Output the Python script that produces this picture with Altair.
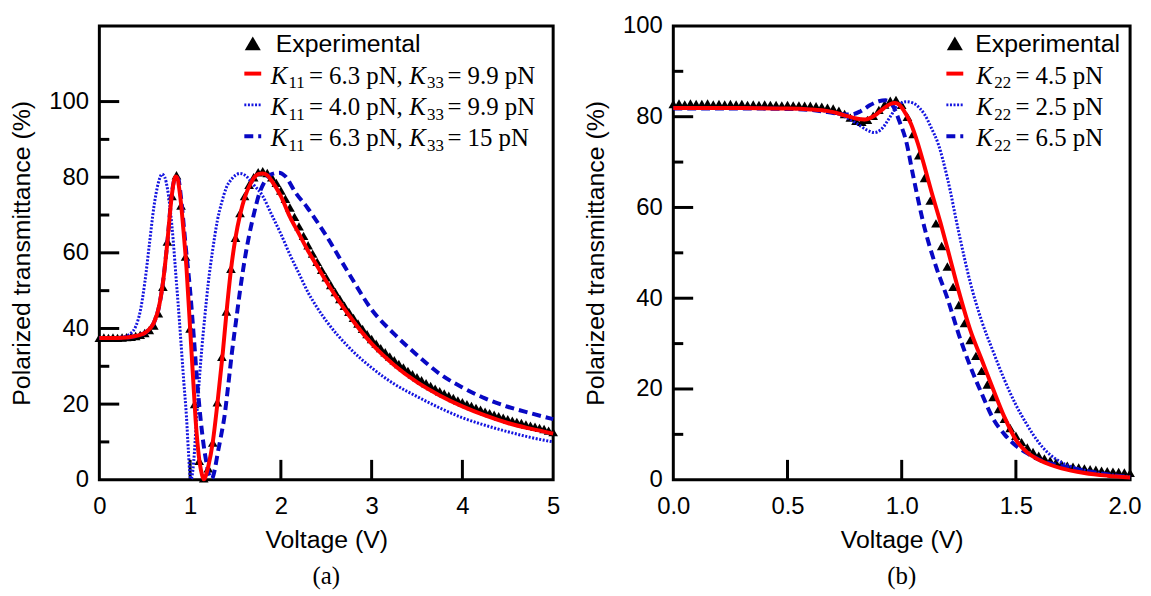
import altair as alt
import pandas as pd

SANS = "Liberation Sans"
SERIF = "Liberation Serif"
RED = "#ff0000"
BLUE_DOT = "#1414e0"
BLUE_DASH = "#0808c4"

# ---------------- Panel (a) data ----------------
a_exp_v = [0.00, 0.05, 0.10, 0.15, 0.20, 0.25, 0.30, 0.35, 0.40, 0.45,
           0.50, 0.55, 0.60, 0.65, 0.70, 0.75, 0.80, 0.85, 0.90, 0.95,
           1.00, 1.05, 1.10, 1.15, 1.20, 1.25, 1.30, 1.35, 1.40, 1.45,
           1.50, 1.55, 1.60, 1.65, 1.70, 1.75, 1.80, 1.85, 1.90, 1.95,
           2.00, 2.05, 2.10, 2.15, 2.20, 2.25, 2.30, 2.35, 2.40, 2.45,
           2.50, 2.55, 2.60, 2.65, 2.70, 2.75, 2.80, 2.85, 2.90, 2.95,
           3.00, 3.05, 3.10, 3.15, 3.20, 3.25, 3.30, 3.35, 3.40, 3.45,
           3.50, 3.55, 3.60, 3.65, 3.70, 3.75, 3.80, 3.85, 3.90, 3.95,
           4.00, 4.05, 4.10, 4.15, 4.20, 4.25, 4.30, 4.35, 4.40, 4.45,
           4.50, 4.55, 4.60, 4.65, 4.70, 4.75, 4.80, 4.85, 4.90, 4.95, 5.00]
a_exp_t = [37.5, 37.6, 37.5, 37.6, 37.5, 37.6, 37.7, 37.8, 38.0, 38.3,
           38.8, 39.6, 40.8, 44.0, 51.0, 63.0, 75.0, 80.5, 72.5, 59.0,
           40.0, 20.0, 5.0, 0.4, 3.0, 9.8, 20.5, 32.5, 44.5, 55.8,
           64.0, 70.5, 75.0, 78.0, 80.0, 81.3, 81.6, 81.1, 80.0, 78.5,
           76.5, 74.3, 72.0, 69.5, 67.0, 64.5, 62.0, 59.8, 57.6, 55.5,
           53.5, 51.5, 49.6, 47.8, 46.0, 44.4, 42.8, 41.3, 39.9, 38.5,
           37.2, 36.0, 34.8, 33.7, 32.6, 31.6, 30.6, 29.7, 28.8, 27.9,
           27.1, 26.3, 25.5, 24.8, 24.1, 23.4, 22.8, 22.2, 21.6, 21.0,
           20.5, 20.0, 19.5, 19.0, 18.5, 18.0, 17.6, 17.2, 16.8, 16.4,
           16.0, 15.6, 15.3, 15.0, 14.6, 14.3, 14.0, 13.7, 13.4, 13.0, 12.6]

a_red_v = [0, 0.1, 0.2, 0.3, 0.4, 0.45, 0.5, 0.55, 0.6, 0.65, 0.7, 0.75, 0.78, 0.8,
           0.82, 0.84, 0.86, 0.88, 0.9, 0.93, 0.96, 1.0, 1.03, 1.06, 1.08, 1.1,
           1.12, 1.14, 1.15, 1.16, 1.18, 1.2, 1.25, 1.3, 1.36, 1.4, 1.45, 1.5,
           1.55, 1.6, 1.67, 1.75, 1.8, 1.85, 1.9, 2.0, 2.1, 2.2, 2.3, 2.4, 2.5,
           2.75, 3.0, 3.25, 3.5, 3.75, 4.0, 4.25, 4.5, 4.75, 5.0]
a_red_t = [37.5, 37.5, 37.5, 37.6, 38.0, 38.3, 38.8, 39.8, 41.5, 45.0, 52.0, 63.0, 71.0, 75.5,
           78.8, 80.2, 79.8, 77.0, 73.0, 65.0, 56.0, 40.0, 28.0, 16.0, 10.0, 5.5,
           2.5, 0.6, 0.1, 0.3, 1.6, 3.5, 10.0, 20.0, 33.6, 44.0, 55.5, 64.0,
           70.0, 74.5, 78.5, 80.8, 81.0, 80.5, 79.0, 75.0, 69.5, 65.0, 60.5, 56.5, 52.5,
           43.5, 36.0, 30.3, 25.8, 22.3, 19.4, 17.0, 15.0, 13.5, 12.2]

a_dot_v = [0, 0.2, 0.3, 0.35, 0.4, 0.45, 0.5, 0.55, 0.6, 0.65, 0.69, 0.72, 0.75, 0.8,
           0.85, 0.88, 0.9, 0.93, 0.96, 0.98, 1.0, 1.01, 1.02, 1.04, 1.07, 1.1, 1.13,
           1.16, 1.2, 1.25, 1.3, 1.35, 1.4, 1.45, 1.5, 1.55, 1.6, 1.7, 1.8, 1.9, 2.0,
           2.1, 2.2, 2.3, 2.4, 2.5, 2.75, 3.0, 3.25, 3.5, 3.75, 4.0, 4.25, 4.5, 4.75, 5.0]
a_dot_t = [37.5, 37.6, 38.0, 38.8, 40.5, 44.5, 52.0, 62.0, 72.0, 78.5, 80.8, 80.0, 77.0, 67.0,
           52.0, 42.7, 36.0, 26.0, 16.6, 8.0, 1.0, 0.2, 0.8, 5.0, 16.0, 26.0, 35.0,
           42.7, 52.0, 61.0, 68.5, 73.5, 77.3, 79.3, 80.5, 81.0, 80.6, 78.0, 75.0, 70.0, 65.0,
           59.5, 54.5, 49.5, 45.5, 42.0, 35.0, 29.6, 25.3, 22.0, 19.0, 16.4, 14.4, 12.7, 11.2, 10.0]

a_dash_v = [0, 0.2, 0.3, 0.4, 0.45, 0.5, 0.55, 0.6, 0.65, 0.7, 0.75, 0.8, 0.84, 0.87, 0.9,
            0.95, 1.0, 1.04, 1.08, 1.12, 1.15, 1.18, 1.2, 1.22, 1.24, 1.27, 1.3, 1.34,
            1.38, 1.42, 1.46, 1.51, 1.55, 1.6, 1.65, 1.7, 1.76, 1.82, 1.9, 1.98, 2.05,
            2.16, 2.29, 2.5, 2.75, 3.0, 3.25, 3.5, 3.75, 4.0, 4.25, 4.5, 4.75, 5.0]
a_dash_t = [37.5, 37.5, 37.6, 38.0, 38.3, 38.8, 39.8, 41.5, 45.0, 52.0, 63.0, 76.0, 80.0, 79.5, 74.5,
            62.0, 50.0, 38.0, 25.3, 15.0, 9.0, 4.5, 2.0, 0.5, 0.3, 2.5, 6.5, 11.5,
            17.0, 25.0, 33.5, 42.7, 50.0, 58.0, 64.6, 70.0, 75.5, 78.8, 80.8, 81.2, 80.2,
            76.0, 72.0, 64.5, 54.5, 45.0, 38.5, 33.0, 28.0, 24.4, 21.5, 19.3, 17.6, 16.0]

# ---------------- Panel (b) data ----------------
b_exp_v = [0.000, 0.025, 0.050, 0.075, 0.100, 0.125, 0.150, 0.175, 0.200, 0.225,
           0.250, 0.275, 0.300, 0.325, 0.350, 0.375, 0.400, 0.425, 0.450, 0.475,
           0.500, 0.525, 0.550, 0.575, 0.600, 0.625, 0.650, 0.675, 0.700, 0.725,
           0.750, 0.775, 0.800, 0.825, 0.850, 0.875, 0.900, 0.925, 0.950, 0.975,
           1.000, 1.025, 1.050, 1.075, 1.100, 1.125, 1.150, 1.175, 1.200, 1.225,
           1.250, 1.275, 1.300, 1.325, 1.350, 1.375, 1.400, 1.425, 1.450, 1.475,
           1.500, 1.525, 1.550, 1.575, 1.600, 1.625, 1.650, 1.675, 1.700, 1.725,
           1.750, 1.775, 1.800, 1.825, 1.850, 1.875, 1.900, 1.925, 1.950, 1.975, 2.000]
b_exp_t = [82.8, 82.9, 82.7, 82.9, 82.8, 82.8, 82.9, 82.7, 82.8, 82.7,
           82.8, 82.7, 82.8, 82.6, 82.7, 82.6, 82.7, 82.6, 82.6, 82.5,
           82.6, 82.5, 82.5, 82.4, 82.4, 82.3, 82.2, 82.0, 81.8, 81.3,
           80.6, 79.8, 79.1, 78.9, 79.3, 80.2, 81.5, 82.7, 83.5, 83.7,
           82.6, 80.0, 76.2, 71.5, 66.5, 61.5, 56.5, 51.5, 47.0, 42.5,
           38.5, 34.5, 30.8, 27.3, 24.0, 21.0, 18.2, 15.6, 13.4, 11.4,
           9.7, 8.3, 7.1, 6.1, 5.3, 4.7, 4.2, 3.8, 3.4, 3.1,
           2.9, 2.7, 2.5, 2.3, 2.2, 2.0, 1.9, 1.8, 1.7, 1.6, 1.5]

b_red_v = [0, 0.3, 0.5, 0.6, 0.65, 0.7, 0.75, 0.8, 0.84, 0.88, 0.92, 0.95, 0.97, 0.99,
           1.01, 1.04, 1.07, 1.1, 1.13, 1.17, 1.2, 1.25, 1.3, 1.35, 1.4, 1.45, 1.5,
           1.55, 1.6, 1.65, 1.7, 1.8, 1.9, 2.0]
b_red_t = [81.9, 81.9, 81.8, 81.6, 81.4, 81.0, 80.3, 79.6, 79.4, 80.2, 81.8, 82.8, 83.0, 82.6,
           81.3, 78.5, 74.2, 69.0, 63.5, 56.6, 51.0, 41.5, 33.0, 26.5, 20.0, 13.8, 8.8,
           6.0, 4.4, 3.3, 2.5, 1.5, 0.9, 0.5]

b_dot_v = [0, 0.3, 0.5, 0.6, 0.7, 0.75, 0.8, 0.85, 0.88, 0.91, 0.95, 0.98, 1.02, 1.05,
           1.08, 1.1, 1.13, 1.16, 1.2, 1.25, 1.3, 1.35, 1.4, 1.45, 1.5, 1.55, 1.6, 1.65,
           1.7, 1.8, 1.9, 2.0]
b_dot_t = [81.9, 81.9, 81.8, 81.6, 80.9, 80.0, 78.6, 77.0, 76.5, 77.2, 80.0, 82.3, 83.3, 83.0,
           81.8, 80.5, 77.5, 74.0, 66.5, 54.5, 43.5, 35.0, 28.3, 22.0, 16.5, 12.0, 8.2, 5.5,
           3.8, 2.1, 1.2, 0.7]

b_dash_v = [0, 0.3, 0.5, 0.6, 0.65, 0.7, 0.75, 0.78, 0.82, 0.86, 0.9, 0.93, 0.96, 0.99,
            1.02, 1.05, 1.1, 1.15, 1.2, 1.25, 1.3, 1.35, 1.4, 1.45, 1.5, 1.55, 1.6, 1.7,
            1.8, 1.9, 2.0]
b_dash_t = [81.8, 81.8, 81.7, 81.5, 81.2, 80.8, 80.5, 80.5, 81.2, 82.5, 83.4, 83.6, 82.5, 79.0,
            74.5, 67.0, 55.5, 47.0, 40.0, 32.0, 25.0, 19.0, 13.5, 10.0, 7.5, 5.8, 4.5, 3.0,
            2.0, 1.2, 0.5]

# tick values
a_x_ticks = [1, 2, 3, 4]
a_y_major = [20, 40, 60, 80, 100]
a_y_minor = [10, 30, 50, 70, 90]
b_x_ticks = [0.5, 1.0, 1.5]
b_y_major = [20, 40, 60, 80]
b_y_minor = [10, 30, 50, 70, 90]

H = 457


def make_panel(xdom, ydom, xlabels, xfmt, ylabels, xt, ymaj, ymin, exp, red, dot, dash,
               legend, caption, width, last_flush=None):
    xkw = dict(values=xlabels, format=xfmt, title="Voltage (V)", ticks=False,
               tickSize=0, domain=False, grid=False, labelFont=SANS,
               labelFontSize=24, labelColor="black", labelPadding=15,
               labelFlush=False, labelOverlap=False, titleFont=SANS,
               titleFontSize=25, titleFontWeight="normal", titleColor="black",
               titlePadding=9)
    if last_flush is not None:
        xkw["labelAlign"] = {"condition": {"test": f"datum.value == {last_flush}",
                                           "value": "right"}, "value": "center"}
        xkw["labelOffset"] = {"condition": {"test": f"datum.value == {last_flush}",
                                            "value": 11}, "value": 0}
    xaxis = alt.Axis(**xkw)
    yaxis = alt.Axis(values=ylabels, format="d", title="Polarized transmittance (%)",
                     ticks=False, tickSize=0, domain=False, grid=False, labelFont=SANS,
                     labelFontSize=24, labelColor="black", labelPadding=11,
                     labelFlush=False, labelOverlap=False, titleFont=SANS,
                     titleFontSize=25, titleFontWeight="normal", titleColor="black",
                     titlePadding=14)
    xs = alt.Scale(domain=xdom, nice=False, zero=False)
    ys = alt.Scale(domain=ydom, nice=False, zero=False)

    def X():
        return alt.X("v:Q", scale=xs, axis=xaxis)

    def Y():
        return alt.Y("t:Q", scale=ys, axis=yaxis)

    layers = []
    layers.append(alt.Chart(pd.DataFrame({"v": xt})).mark_rule(
        color="black", strokeWidth=3).encode(x=X(), y=alt.value(H), y2=alt.value(H - 20)))
    layers.append(alt.Chart(pd.DataFrame({"t": ymaj})).mark_rule(
        color="black", strokeWidth=3).encode(y=Y(), x=alt.value(0), x2=alt.value(20)))
    layers.append(alt.Chart(pd.DataFrame({"t": ymin})).mark_rule(
        color="black", strokeWidth=3).encode(y=Y(), x=alt.value(0), x2=alt.value(10)))
    layers.append(alt.Chart(pd.DataFrame({"v": exp[0], "t": exp[1]})).mark_point(
        shape="triangle-up", filled=True, color="black", opacity=1, size=95,
        clip=False).encode(x=X(), y=Y()))
    layers.append(alt.Chart(pd.DataFrame({"v": dot[0], "t": dot[1]})).mark_line(
        color=BLUE_DOT, strokeWidth=3, strokeDash=[2, 1.6], interpolate="monotone").encode(
        x=X(), y=Y()))
    layers.append(alt.Chart(pd.DataFrame({"v": dash[0], "t": dash[1]})).mark_line(
        color=BLUE_DASH, strokeWidth=4, strokeDash=[9, 5], interpolate="monotone").encode(
        x=X(), y=Y()))
    layers.append(alt.Chart(pd.DataFrame({"v": red[0], "t": red[1]})).mark_line(
        color=RED, strokeWidth=4, interpolate="monotone").encode(x=X(), y=Y()))

    # ---- legend (drawn inside plot) ----
    one = alt.Data(values=[{"k": 0}])
    sx0, sx1, tri_x = legend["sym"]
    rows_sym = [17.5, 48, 79.5, 111]
    rows_base = [26, 58, 89.5, 121]
    layers.append(alt.Chart(one).mark_point(shape="triangle-up", filled=True, color="black",
                                            opacity=1, size=260).encode(
        x=alt.value(tri_x), y=alt.value(rows_sym[0])))
    styles = [(RED, 4, None), (BLUE_DOT, 3, [2, 1.6]), (BLUE_DASH, 4, [9, 5])]
    for i, (c, w, d) in enumerate(styles):
        kw = dict(color=c, strokeWidth=w)
        if d:
            kw["strokeDash"] = d
        layers.append(alt.Chart(one).mark_rule(**kw).encode(
            x=alt.value(sx0), x2=alt.value(sx1), y=alt.value(rows_sym[i + 1])))
    layers.append(alt.Chart(one).mark_text(text="Experimental", font=SANS, fontSize=25,
                                           align="left", baseline="alphabetic",
                                           color="black").encode(
        x=alt.value(legend["exp_x"]), y=alt.value(rows_base[0])))
    for i, pieces in enumerate(legend["rows"]):
        base = rows_base[i + 1]
        for (txt, px, kind) in pieces:
            if kind == "K":
                layers.append(alt.Chart(one).mark_text(
                    text=txt, font=SERIF, fontSize=25, fontStyle="italic", align="left",
                    baseline="alphabetic", color="black").encode(
                    x=alt.value(px), y=alt.value(base)))
            elif kind == "sub":
                layers.append(alt.Chart(one).mark_text(
                    text=txt, font=SERIF, fontSize=17, align="left",
                    baseline="alphabetic", color="black").encode(
                    x=alt.value(px), y=alt.value(base + 5)))
            else:
                layers.append(alt.Chart(one).mark_text(
                    text=txt, font=SERIF, fontSize=25, align="left",
                    baseline="alphabetic", color="black").encode(
                    x=alt.value(px), y=alt.value(base)))

    return alt.layer(*layers).properties(
        width=width, height=H,
        title=alt.TitleParams(caption, orient="bottom", anchor="middle", font=SERIF,
                              fontSize=25, fontWeight="normal", color="black", offset=12))


legend_a = {
    "sym": (146, 163, 154.5),
    "exp_x": 177.7,
    "rows": [
        [("K", 172.7, "K"), ("11", 190.5, "sub"), ("= 6.3 pN,", 211, "t"),
         ("K", 312, "K"), ("33", 330, "sub"), ("= 9.9 pN", 350.5, "t")],
        [("K", 172.7, "K"), ("11", 190.5, "sub"), ("= 4.0 pN,", 211, "t"),
         ("K", 312, "K"), ("33", 330, "sub"), ("= 9.9 pN", 350.5, "t")],
        [("K", 172.7, "K"), ("11", 190.5, "sub"), ("= 6.3 pN,", 211, "t"),
         ("K", 312, "K"), ("33", 330, "sub"), ("= 15 pN", 350.5, "t")],
    ],
}
legend_b = {
    "sym": (275, 292, 283.5),
    "exp_x": 304,
    "rows": [
        [("K", 305, "K"), ("22", 323.3, "sub"), ("= 4.5 pN", 344.5, "t")],
        [("K", 305, "K"), ("22", 323.3, "sub"), ("= 2.5 pN", 344.5, "t")],
        [("K", 305, "K"), ("22", 323.3, "sub"), ("= 6.5 pN", 344.5, "t")],
    ],
}

pa = make_panel([0, 5], [0, 120], [0, 1, 2, 3, 4, 5], "d", [0, 20, 40, 60, 80, 100],
                a_x_ticks, a_y_major, a_y_minor,
                (a_exp_v, a_exp_t), (a_red_v, a_red_t), (a_dot_v, a_dot_t),
                (a_dash_v, a_dash_t), legend_a, "(a)", 457)
pb = make_panel([0, 2], [0, 100], [0, 0.5, 1.0, 1.5, 2.0], ".1f", [0, 20, 40, 60, 80, 100],
                b_x_ticks, b_y_major, b_y_minor,
                (b_exp_v, b_exp_t), (b_red_v, b_red_t), (b_dot_v, b_dot_t),
                (b_dash_v, b_dash_t), legend_b, "(b)", 460, last_flush=2)

chart = alt.hconcat(pa, pb, spacing=19).properties(
    padding={"left": 0, "top": 2, "right": 0, "bottom": 0},
    background="white",
).configure_view(stroke="black", strokeWidth=3)

chart.save("out.html", embed_options={"renderer": "svg", "actions": False})
